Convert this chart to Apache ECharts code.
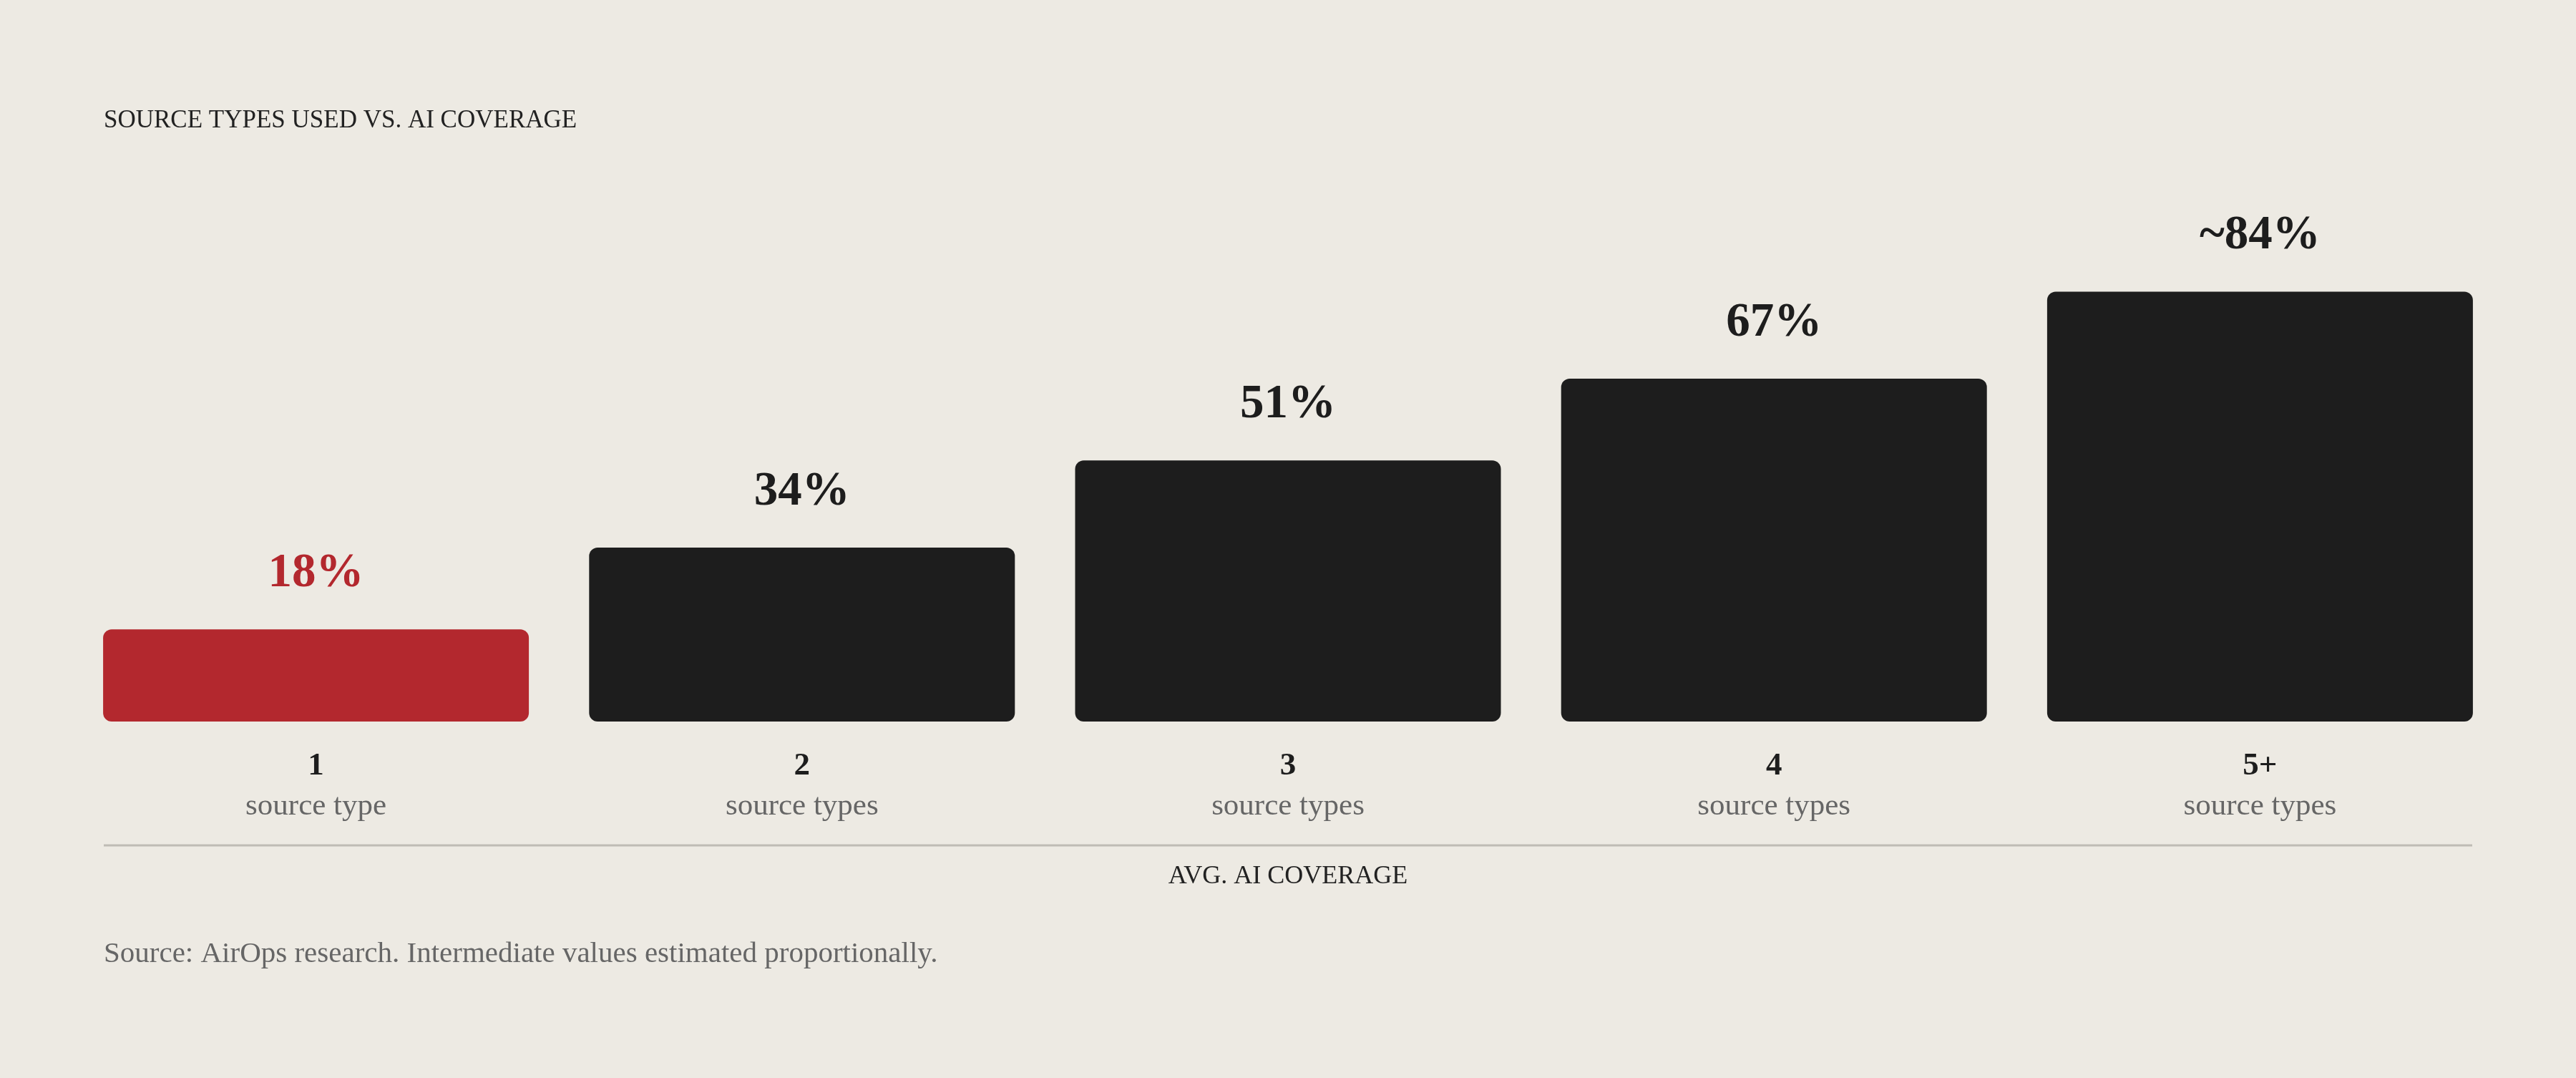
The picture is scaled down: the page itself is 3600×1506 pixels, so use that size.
<!DOCTYPE html>
<html lang="en" style="height: 100%">

<head>
    <meta charset="utf-8" />
    <script src="https://cdn.jsdelivr.net/npm/echarts@6/dist/echarts.min.js"></script>
</head>

<body style="height: 100%; margin: 0; background: #edeae3">
    <div id="container" style="width: 3600px;height: 1506px;"></div>
    <script type="text/javascript">
        // data
        const categories = ['1', '2', '3', '4', '5+'];
        const categorySub = ['source type', 'source types', 'source types', 'source types', 'source types'];
        const coverage = [18, 34, 51, 67, 84];
        const coverageLabels = ['18%', '34%', '51%', '67%', '~84%'];

        const RED = '#b3282e';
        const INK = '#1d1d1d';
        const SERIF = "'Liberation Serif', 'DejaVu Serif', serif";

        var dom = document.getElementById('container');
        var myChart = echarts.init(dom, null, { renderer: 'canvas' });

        var option = {
            backgroundColor: '#edeae3',
            animation: false,
            title: {
                text: 'SOURCE TYPES USED VS. AI COVERAGE',
                left: 145,
                top: 151,
                padding: 0,
                textStyle: {
                    fontFamily: SERIF,
                    fontSize: 35,
                    fontWeight: 'normal',
                    color: '#222'
                }
            },
            grid: {
                left: 102,
                right: 102,
                top: 293,
                bottom: 498,
                containLabel: false
            },
            xAxis: {
                type: 'category',
                data: categories,
                axisLine: { show: false },
                axisTick: { show: false },
                axisLabel: {
                    margin: 34,
                    formatter: function (v, i) {
                        return '{n|' + v + '}\n{s|' + categorySub[i] + '}';
                    },
                    rich: {
                        n: {
                            fontFamily: SERIF,
                            fontSize: 45,
                            fontWeight: 'bold',
                            color: INK,
                            lineHeight: 56
                        },
                        s: {
                            fontFamily: SERIF,
                            fontSize: 43,
                            color: '#666',
                            lineHeight: 58
                        }
                    }
                }
            },
            yAxis: {
                type: 'value',
                min: 0,
                max: 100,
                show: false,
                splitLine: { show: false }
            },
            series: [{
                type: 'bar',
                barWidth: 595,
                data: coverage.map(function (v, i) {
                    var c = i === 0 ? RED : INK;
                    return {
                        value: v,
                        itemStyle: { color: c, borderRadius: 12 },
                        label: { color: c }
                    };
                }),
                label: {
                    show: true,
                    position: 'top',
                    distance: 44,
                    fontFamily: SERIF,
                    fontSize: 67,
                    fontWeight: 'bold',
                    formatter: function (p) {
                        return coverageLabels[p.dataIndex];
                    }
                }
            }],
            graphic: [
                {
                    type: 'line',
                    shape: { x1: 145, y1: 1181, x2: 3455, y2: 1181 },
                    style: { stroke: '#bfbcb5', lineWidth: 3 }
                },
                {
                    type: 'text',
                    x: 1800,
                    y: 1225,
                    style: {
                        text: 'AVG. AI COVERAGE',
                        fontFamily: SERIF,
                        fontSize: 36,
                        fill: '#222',
                        align: 'center',
                        verticalAlign: 'middle'
                    }
                },
                {
                    type: 'text',
                    x: 145,
                    y: 1333,
                    style: {
                        text: 'Source: AirOps research. Intermediate values estimated proportionally.',
                        fontFamily: SERIF,
                        fontSize: 41,
                        fill: '#666',
                        align: 'left',
                        verticalAlign: 'middle'
                    }
                }
            ]
        };

        if (option && typeof option === 'object') {
            myChart.setOption(option);
        }

        window.addEventListener('resize', myChart.resize);
    </script>
</body>

</html>
